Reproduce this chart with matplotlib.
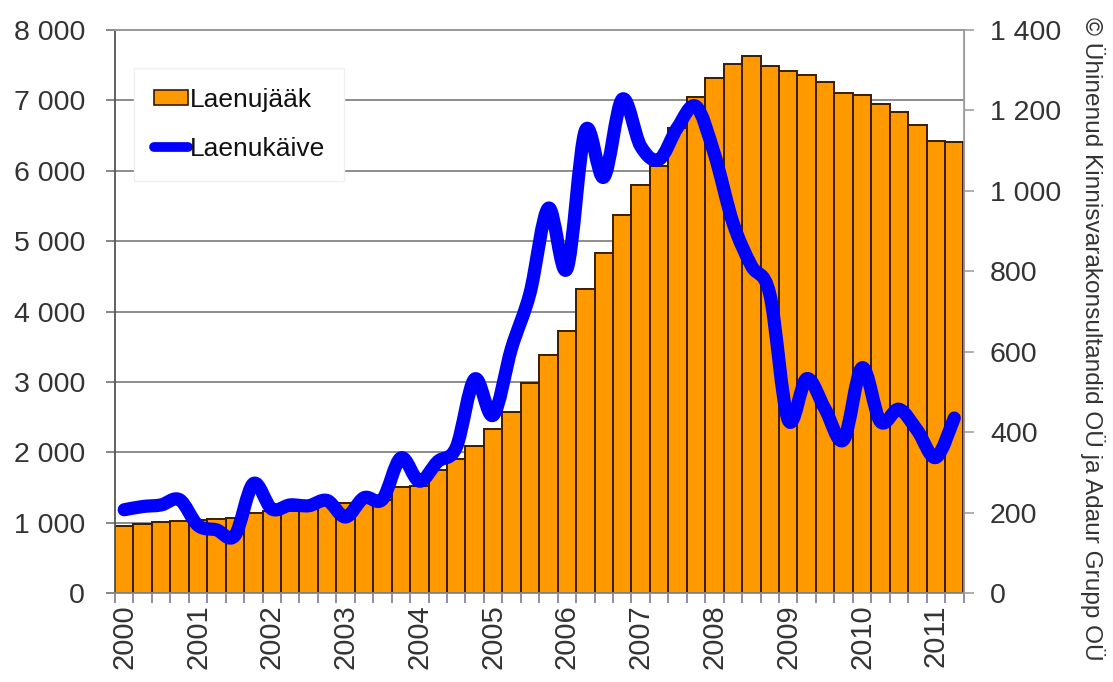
import numpy as np
import matplotlib
matplotlib.use("Agg")
import matplotlib.pyplot as plt
from matplotlib.path import Path
from matplotlib.patches import PathPatch, Patch
from matplotlib.lines import Line2D
from matplotlib.ticker import FuncFormatter, FixedLocator

plt.rcParams['font.family'] = ['Liberation Sans', 'DejaVu Sans']

# ---- data (quarterly, 2000 Q1 .. 2011 Q2) ----
years = ["2000", "2001", "2002", "2003", "2004", "2005", "2006",
         "2007", "2008", "2009", "2010", "2011"]
laenujaak = [953, 977, 1014, 1020, 1040, 1055, 1065, 1135, 1160, 1170, 1190, 1267,
             1280, 1290, 1324, 1500, 1520, 1743, 1897, 2090, 2328, 2574, 2980, 3382,
             3716, 4324, 4838, 5377, 5795, 6070, 6610, 7055, 7318, 7522, 7628, 7490,
             7414, 7354, 7263, 7101, 7071, 6949, 6833, 6646, 6419, 6409]
laenukaive = [207, 215, 219, 232, 168, 157, 143, 272, 209, 219, 217, 230,
              189, 237, 233, 336, 278, 327, 362, 532, 442, 609, 746, 957,
              806, 1150, 1034, 1228, 1111, 1078, 1158, 1210, 1091, 921, 814, 743,
              430, 533, 457, 381, 560, 426, 457, 404, 337, 435]
series_names = ["Laenujääk", "Laenukäive"]
copyright_text = "© Ühinenud Kinnisvarakonsultandid OÜ ja Adaur Grupp OÜ"

W, H = 1113, 682
fig = plt.figure(figsize=(W / 100, H / 100), dpi=100)
L, R, T, B = 115, 963.5, 30, 593
ax = fig.add_axes([L / W, 1 - B / H, (R - L) / W, (B - T) / H])
ax2 = ax.twinx()

n = len(laenujaak)
x = np.arange(n)

ax.set_axisbelow(True)
ax.bar(x, laenujaak, width=1.0, color="#FF9900", edgecolor="#3a1c00",
       linewidth=1.4, zorder=2)
ax.set_xlim(-0.5, n - 0.5)
ax.set_ylim(0, 8000)
ax.set_yticks(np.arange(0, 8001, 1000))
ax.yaxis.grid(True, color="#8c8c8c", linewidth=1.4)
ax.xaxis.grid(False)

fmt = FuncFormatter(lambda v, p: f"{v:,.0f}".replace(",", " "))
ax.yaxis.set_major_formatter(fmt)

# x ticks: labels at the first quarter of each year, marks at bar boundaries
ax.xaxis.set_major_locator(FixedLocator(x[::4]))
ax.set_xticklabels(years, rotation=90, fontsize=21, color="#333333")
ax.xaxis.set_minor_locator(FixedLocator(np.arange(-0.5, n, 1.0)))
ax.tick_params(axis="x", which="major", length=0, pad=8)
ax.tick_params(axis="x", which="minor", length=7, width=1.2, color="#7a7a9a",
               direction="out")
ax.tick_params(axis="y", which="major", length=6.5, width=1.1, color="#666666",
               labelsize=20.5, labelcolor="#333333", pad=15)

ax.spines["top"].set_color("#9a9a9a")
ax.spines["top"].set_linewidth(1.4)
ax.spines["left"].set_color("#555555")
ax.spines["left"].set_linewidth(1.3)
ax.spines["bottom"].set_color("#8a8a8a")
ax.spines["bottom"].set_linewidth(1.3)
ax.spines["right"].set_color("#9a9a9a")

# right axis
ax2.set_ylim(0, 1400)
ax2.set_yticks(np.arange(0, 1401, 200))
ax2.yaxis.set_major_formatter(fmt)
ax2.tick_params(axis="y", length=7, width=1.1, color="#999999",
                labelsize=20.5, labelcolor="#333333", pad=12)
for s in ax2.spines.values():
    s.set_visible(False)
ax2.spines["right"].set_visible(True)
ax2.spines["right"].set_color("#9a9a9a")
ax2.spines["right"].set_linewidth(1.2)

# smooth line (Catmull-Rom as cubic Bezier through the data points)
pts = np.column_stack([x, np.array(laenukaive, dtype=float)])
verts = [pts[0]]
codes = [Path.MOVETO]
for i in range(n - 1):
    p0 = pts[i - 1] if i > 0 else pts[i]
    p1 = pts[i]
    p2 = pts[i + 1]
    p3 = pts[i + 2] if i + 2 < n else pts[i + 1]
    c1 = p1 + (p2 - p0) / 6.0
    c2 = p2 - (p3 - p1) / 6.0
    verts += [c1, c2, p2]
    codes += [Path.CURVE4] * 3
path = Path(np.array(verts), codes)
ax2.add_patch(PathPatch(path, facecolor="none", edgecolor="#0000FF",
                        linewidth=9.5, capstyle="round", joinstyle="round",
                        zorder=3))

# legend
handles = [Patch(facecolor="#FF9900", edgecolor="#3a1c00", linewidth=1.2),
           Line2D([0], [0], color="#0000FF", linewidth=7, solid_capstyle="round")]
leg = ax2.legend(handles, series_names, loc="upper left",
                 bbox_to_anchor=(134 / W, 1 - 68 / H), bbox_transform=fig.transFigure,
                 fontsize=19, frameon=True, fancybox=False, framealpha=1,
                 edgecolor="#f0f0f0", handlelength=1.3, handleheight=0.55,
                 handletextpad=0.05, labelspacing=0.95, borderpad=0.75,
                 borderaxespad=0)
leg.get_frame().set_linewidth(1.0)
for t in leg.get_texts():
    t.set_color("#111111")

# copyright, rotated
fig.text(1092 / W, 1 - 339 / H, copyright_text, rotation=-90, fontsize=17.6,
         color="#333333", ha="center", va="center")

fig.savefig("out.png", dpi=100)
